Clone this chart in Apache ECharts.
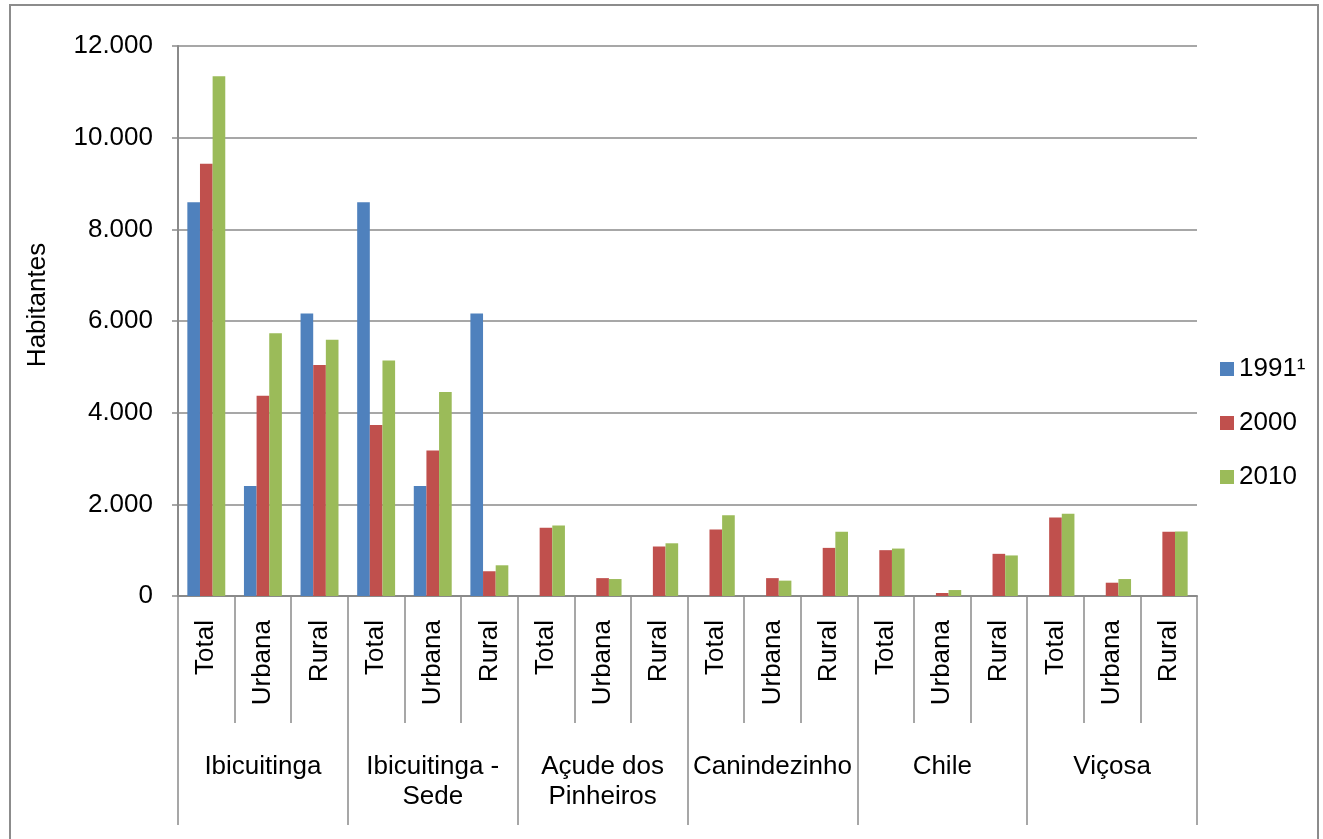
<!DOCTYPE html>
<html>
<head>
<meta charset="utf-8">
<script src="https://cdn.jsdelivr.net/npm/echarts@6/dist/echarts.min.js"></script>
<style>
  html, body { margin: 0; padding: 0; background: #ffffff; }
  #chart { width: 1323px; height: 839px; }
</style>
</head>
<body>
<div id="chart"></div>
<script>
// Population by locality and situation (total / urban / rural)
const subCategories = [
  'Total', 'Urbana', 'Rural', 'Total', 'Urbana', 'Rural',
  'Total', 'Urbana', 'Rural', 'Total', 'Urbana', 'Rural',
  'Total', 'Urbana', 'Rural', 'Total', 'Urbana', 'Rural'
];
const groups = [
  'Ibicuitinga', 'Ibicuitinga -\nSede', 'Açude dos\nPinheiros',
  'Canindezinho', 'Chile', 'Viçosa'
];
const seriesNames = ['1991¹', '2000', '2010'];

const values1991 = [
  8590, 2400, 6165, 8590, 2400, 6165,
  null, null, null, null, null, null,
  null, null, null, null, null, null
];
const values2000 = [
  9430, 4370, 5040, 3730, 3175, 540,
  1490, 390, 1080, 1450, 390, 1050,
  1000, 65, 920, 1715, 290, 1400
];
const values2010 = [
  11340, 5735, 5590, 5140, 4450, 670,
  1540, 370, 1150, 1760, 335, 1400,
  1035, 130, 885, 1795, 370, 1410
];

const yTicks = { min: 0, max: 12000, interval: 2000 };
const colors = ['#4F81BD', '#C0504D', '#9BBB59'];

const FONT = '"Liberation Sans", Arial, sans-serif';
const FONT_SIZE = 26;
const GRAY = '#8a8a8a';

function thousands(v) {
  return String(v).replace(/\B(?=(\d{3})+(?!\d))/g, '.');
}

const chart = echarts.init(document.getElementById('chart'));

const option = {
  animation: false,
  textStyle: { fontFamily: FONT, color: '#000' },
  color: colors,
  grid: { left: 178, right: 126, top: 46, bottom: 243, containLabel: false },
  legend: {
    orient: 'vertical',
    left: 1215,
    top: 351,
    icon: 'rect',
    itemWidth: 14,
    itemHeight: 14,
    itemGap: 28,
    textStyle: { fontFamily: FONT, fontSize: FONT_SIZE, color: '#000', lineHeight: 26 },
    data: seriesNames
  },
  xAxis: [
    {
      type: 'category',
      data: subCategories,
      position: 'bottom',
      axisLine: { show: true, lineStyle: { color: GRAY, width: 2 } },
      axisTick: { show: true, interval: 0, length: 127, lineStyle: { color: GRAY, width: 1.5 } },
      axisLabel: {
        interval: 0,
        rotate: 90,
        margin: 24,
        fontFamily: FONT,
        fontSize: FONT_SIZE,
        color: '#000'
      },
      splitLine: { show: false }
    },
    {
      type: 'category',
      data: groups,
      position: 'bottom',
      axisLine: { show: false },
      axisTick: { show: true, interval: 0, length: 229, lineStyle: { color: GRAY, width: 1.5 } },
      axisLabel: {
        interval: 0,
        margin: 156,
        fontFamily: FONT,
        fontSize: FONT_SIZE,
        lineHeight: 30,
        color: '#000'
      },
      splitLine: { show: false }
    }
  ],
  yAxis: {
    type: 'value',
    min: yTicks.min,
    max: yTicks.max,
    interval: yTicks.interval,
    axisLine: { show: true, lineStyle: { color: GRAY, width: 2 } },
    axisTick: { show: true, length: 6, lineStyle: { color: GRAY, width: 1.5 } },
    axisLabel: {
      margin: 25,
      fontFamily: FONT,
      fontSize: FONT_SIZE,
      color: '#000',
      formatter: thousands
    },
    splitLine: { show: true, lineStyle: { color: GRAY, width: 1.5 } }
  },
  graphic: [
    {
      type: 'rect',
      shape: { x: 10, y: 5, width: 1308, height: 860 },
      style: { fill: 'none', stroke: '#8c8c8c', lineWidth: 2 },
      silent: true,
      z: -1
    },
    {
      type: 'text',
      x: 38,
      y: 305,
      rotation: Math.PI / 2,
      style: {
        text: 'Habitantes',
        font: FONT_SIZE + 'px ' + FONT,
        fill: '#000',
        align: 'center',
        verticalAlign: 'middle'
      }
    }
  ],
  series: [
    { name: seriesNames[0], type: 'bar', data: values1991, barGap: '0%', barCategoryGap: '33%' },
    { name: seriesNames[1], type: 'bar', data: values2000, barGap: '0%', barCategoryGap: '33%' },
    { name: seriesNames[2], type: 'bar', data: values2010, barGap: '0%', barCategoryGap: '33%' }
  ]
};

chart.setOption(option);
</script>
</body>
</html>
